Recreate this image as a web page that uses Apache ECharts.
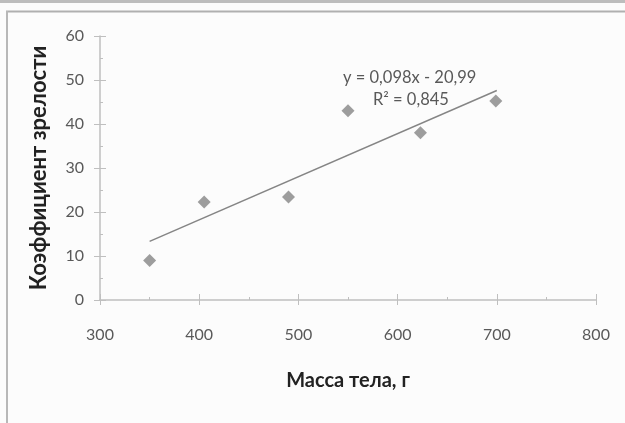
<!DOCTYPE html>
<html>
<head>
<meta charset="utf-8">
<script src="https://cdn.jsdelivr.net/npm/echarts@6/dist/echarts.min.js"></script>
<style>
  html, body { margin: 0; padding: 0; background: #fcfcfc; }
  #main { width: 625px; height: 423px; }
</style>
</head>
<body>
<div id="main"></div>
<script>
// body mass (g) vs maturity coefficient
const massX = [350, 405, 490, 550, 623, 699];
const maturityY = [9, 22.3, 23.4, 43, 38, 45.2];
const trendSlope = 0.098;
const trendIntercept = -20.99;
const trendRange = [350, 700];
const eqText = 'y = 0,098x - 20,99';
const r2Text = 'R² = 0,845';

const points = massX.map((x, i) => [x, maturityY[i]]);
const trend = trendRange.map(x => [x, trendSlope * x + trendIntercept]);

let chart = echarts.init(document.getElementById('main'));

const axisGray = '#bfbfbf';
const labelGray = '#595959';
const font = 'Lato, "Open Sans", sans-serif';

const option = {
  backgroundColor: '#fcfcfc',
  animation: false,
  textStyle: { fontFamily: font },
  grid: { left: 100, right: 29, top: 36, bottom: 123 },
  graphic: [
    { type: 'rect', shape: { x: 0, y: 0, width: 625, height: 3 }, style: { fill: '#bdbdbd' } },
    { type: 'line', shape: { x1: 6, y1: 11.5, x2: 625, y2: 11.5 }, style: { stroke: '#b0b0b0', lineWidth: 2 } },
    { type: 'line', shape: { x1: 7, y1: 11, x2: 7, y2: 423 }, style: { stroke: '#b8b8b8', lineWidth: 2 } },
    { type: 'text', left: 343, top: 69, style: { text: eqText, fontSize: 16.5, fill: labelGray, fontFamily: font } },
    { type: 'text', left: 373, top: 91, style: { text: r2Text, fontSize: 16.5, fill: labelGray, fontFamily: font } }
  ],
  xAxis: [
    {
      type: 'value', min: 300, max: 800, interval: 100, position: 'bottom',
      name: 'Масса тела, г', nameLocation: 'middle', nameGap: 71,
      nameTextStyle: { fontSize: 20, fontWeight: 'bold', color: '#222' },
      axisLine: { lineStyle: { color: axisGray, width: 1.5 } },
      axisTick: { show: true, inside: false, length: 5, lineStyle: { color: axisGray } },
      axisLabel: { color: labelGray, fontSize: 16, margin: 27 },
      splitLine: { show: false }
    },
    {
      type: 'value', min: 300, max: 800, interval: 100, position: 'bottom',
      axisLine: { show: false },
      axisTick: { show: true, inside: true, length: 6, lineStyle: { color: axisGray } },
      minorTick: { show: true, splitNumber: 2, length: 3, lineStyle: { color: axisGray } },
      axisLabel: { show: false },
      splitLine: { show: false }
    }
  ],
  yAxis: [
    {
      type: 'value', min: 0, max: 60, interval: 10, position: 'left',
      name: 'Коэффициент зрелости', nameLocation: 'middle', nameGap: 50,
      nameTextStyle: { fontSize: 22, fontWeight: 'bold', color: '#222' },
      axisLine: { show: true, lineStyle: { color: axisGray, width: 1.5 } },
      axisTick: { show: true, inside: false, length: 6, lineStyle: { color: axisGray } },
      axisLabel: { color: labelGray, fontSize: 16, margin: 16 },
      splitLine: { show: false }
    },
    {
      type: 'value', min: 0, max: 60, interval: 10, position: 'left',
      axisLine: { show: false },
      axisTick: { show: true, inside: true, length: 6, lineStyle: { color: axisGray } },
      minorTick: { show: true, splitNumber: 2, length: 3, lineStyle: { color: axisGray } },
      axisLabel: { show: false },
      splitLine: { show: false }
    }
  ],
  series: [
    {
      type: 'line', data: trend, showSymbol: false, symbol: 'none',
      lineStyle: { color: '#858585', width: 1.5 }, z: 2
    },
    {
      type: 'scatter', data: points, symbol: 'diamond', symbolSize: 13,
      itemStyle: { color: '#858585' }, z: 3
    }
  ]
};

chart.setOption(option);
</script>
</body>
</html>
